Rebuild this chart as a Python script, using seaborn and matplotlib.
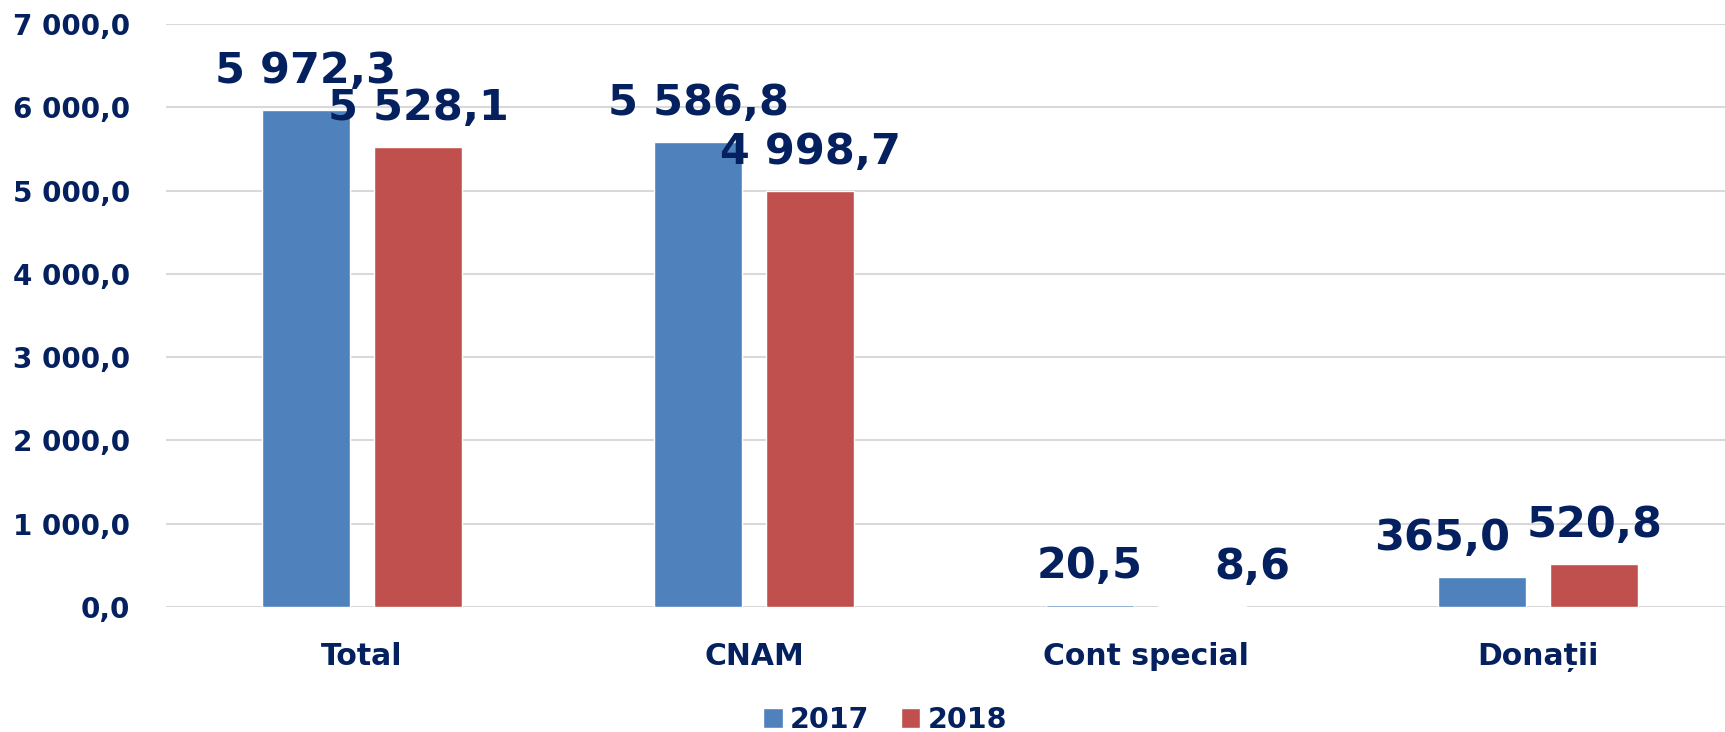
import matplotlib
matplotlib.use("Agg")
import matplotlib.pyplot as plt
import pandas as pd
import seaborn as sns

# date grafic
categorii = ["Total", "CNAM", "Cont special", "Donații"]
ani = ["2017", "2018"]
valori_2017 = [5972.3, 5586.8, 20.5, 365.0]
valori_2018 = [5528.1, 4998.7, 8.6, 520.8]
y_ticks = [0, 1000, 2000, 3000, 4000, 5000, 6000, 7000]

NAVY = "#04205E"
culori = ["#4F81BD", "#C0504D"]


def fmt(v):
    # 5972.3 -> "5 972,3"
    return f"{v:,.1f}".replace(",", " ").replace(".", ",")


df = pd.DataFrame({
    "categorie": categorii * 2,
    "an": [ani[0]] * len(categorii) + [ani[1]] * len(categorii),
    "valoare": valori_2017 + valori_2018,
})

sns.set_theme(style="white")
plt.rcParams["font.family"] = ["DejaVu Sans"]

fig = plt.figure(figsize=(17.25, 7.32), dpi=100)
ax = fig.add_axes([166 / 1725, 1 - 607 / 732, 1 - 166 / 1725, (607 - 24) / 732])

sns.barplot(data=df, x="categorie", y="valoare", hue="an", order=categorii,
            hue_order=ani, palette=culori, saturation=1, width=0.572, gap=0.21,
            errorbar=None, ax=ax, zorder=3)

# etichete valori (cateva mutate lateral ca sa nu se suprapuna)
pad = 13
mutari = {(0, 3): -29, (1, 2): 36}
for i, (cont, vals) in enumerate(zip(ax.containers, [valori_2017, valori_2018])):
    anns = ax.bar_label(cont, labels=[fmt(v) for v in vals], padding=pad,
                        fontsize=31, fontweight="bold", color=NAVY)
    for j, a in enumerate(anns):
        if (i, j) in mutari:
            a.xyann = (mutari[(i, j)], pad)

ax.set_ylim(0, 7000)
ax.set_xlim(-0.5, 3.477)
ax.set_yticks(y_ticks)
ax.set_yticklabels([fmt(v) for v in y_ticks])
ax.yaxis.grid(True, color="#D9D9D9", linewidth=1.5, zorder=0)
ax.set_axisbelow(True)
ax.tick_params(axis="y", length=0, pad=26, labelsize=20, labelcolor=NAVY)
ax.tick_params(axis="x", length=0, pad=25, labelsize=21.5, labelcolor=NAVY)
for lab in ax.get_xticklabels() + ax.get_yticklabels():
    lab.set_fontweight("bold")
sns.despine(ax=ax, left=True, bottom=True)
ax.set(xlabel="", ylabel="")

ax.legend_.remove()
handles, labels = ax.get_legend_handles_labels()
leg = fig.legend(handles, labels, loc="center", bbox_to_anchor=(0.513, 0.016),
                 ncol=2, frameon=False, handlelength=0.7, handleheight=0.7,
                 handletextpad=0.25, columnspacing=1.1,
                 prop={"size": 20.5, "weight": "bold"})
for t in leg.get_texts():
    t.set_color(NAVY)

fig.savefig("out.png", dpi=100)
